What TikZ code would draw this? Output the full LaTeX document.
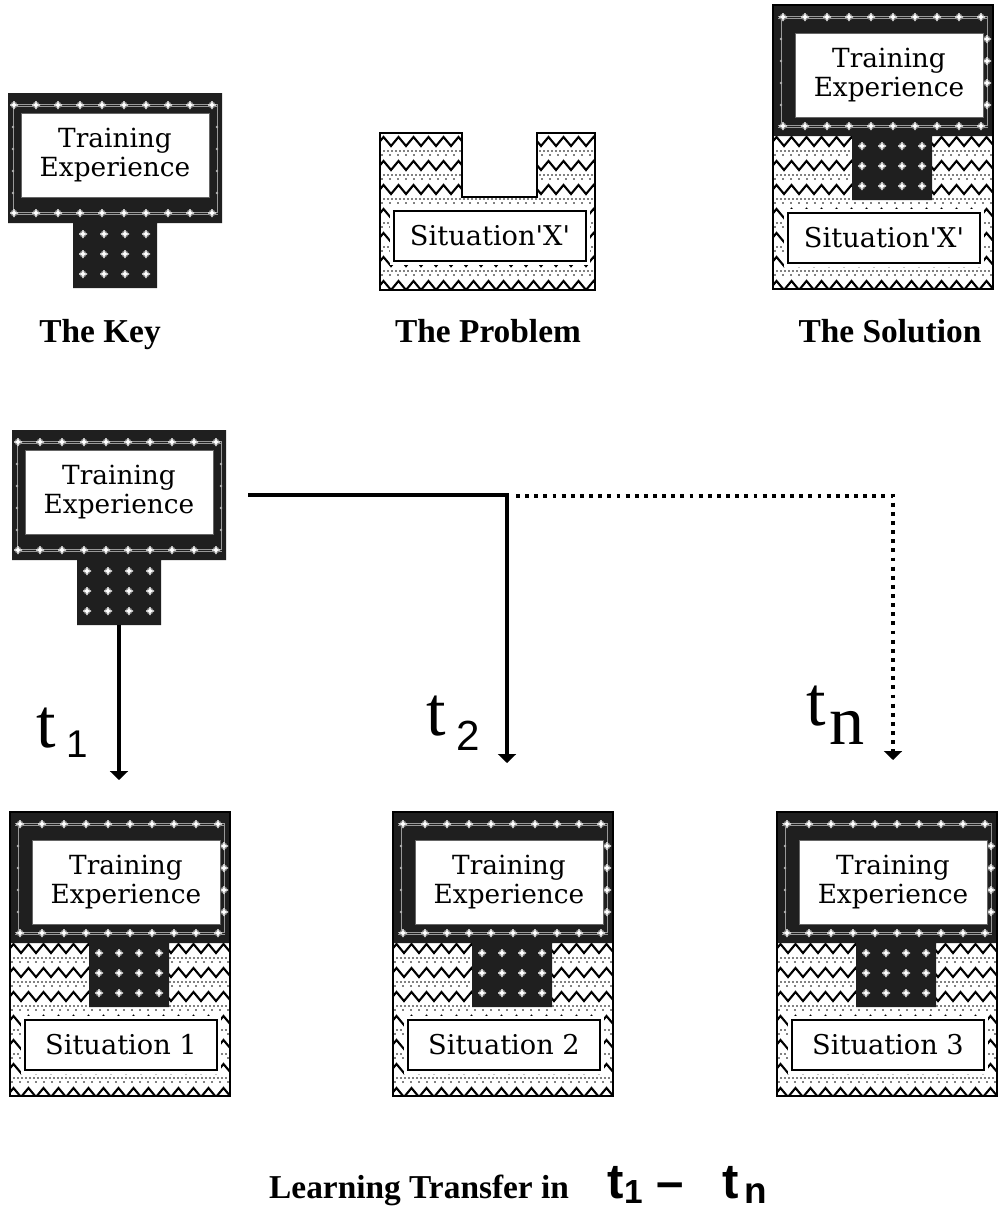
\documentclass[tikz,border=0pt]{standalone}
\usepackage{fontspec}
\setmainfont{Liberation Serif}
\setsansfont{Liberation Sans}
\newfontfamily\boxfont{DejaVu Serif}
\usetikzlibrary{arrows.meta,positioning}

\tikzset{
  ink/.style={fill=black!88},
  rail/.style={draw=white!60!black,line width=0.3pt},
  outline/.style={draw=black,line width=1.2pt},
  zig/.style={line width=1.2pt,line join=miter},
  tebox/.style={draw=black!60,line width=0.4pt,fill=white,align=center,inner sep=0pt,
    minimum width=3.76cm,minimum height=1.68cm,font=\boxfont\fontsize{15}{16}\selectfont},
  sitbox/.style={draw=black,line width=1pt,fill=white,preaction={draw=white,line width=5pt},
    inner sep=0pt,minimum width=3.84cm,minimum height=1cm,font=\boxfont\fontsize{15.5}{16}\selectfont},
  caption/.style={font=\bfseries\fontsize{19}{20}\selectfont},
  tlabel/.style={font=\fontsize{40}{40}\selectfont,inner sep=0pt,anchor=base west},
  flow/.style={line width=1.8pt,-{Triangle[width=10pt,length=5pt]}},
  dotflow/.style={line width=2.2pt,dash pattern=on 2.2pt off 3pt,-{Triangle[width=10pt,length=5pt]}},
  % small white star on the dark frame
  flower/.pic={
    \fill[white!50!black] (0,0) circle (3.5);
    \fill[white] (-4,-0.7) rectangle (4,0.7) (-0.7,-4) rectangle (0.7,4);
    \fill[white] (0,0) circle (2);
  },
  % zigzag and dot rows, clipped by the caller
  zigband/.pic={
    \foreach \r in {0,...,6} {
      \draw[zig] (-4,\r*24+13) \foreach \k in {0,...,15} { -- ++(7.5,-9) -- ++(7.5,9) };
      \fill \foreach \xx in {0,4,...,228} { (\xx,\r*24+18) circle (0.9) };
      \fill \foreach \xx in {2,10,...,228} { (\xx,\r*24+22) circle (0.9) };
    }
  },
  keypic/.pic={
    \fill[ink] (0,0) rectangle (214,130) (65,129) rectangle (149,195);
    \draw[rail] (4,11) -- (210,11) (4,13) -- (210,13) (4,119) -- (210,119) (4,121) -- (210,121);
    \draw[rail] (5,12) -- (5,120) (209,12) -- (209,120);
    \foreach \i in {0,...,9} {
      \pic at (6+22*\i,12) {flower};
      \pic at (6+22*\i,120) {flower};
    }
    \foreach \j in {34,56,78,100} \fill[white!70!black] (5,\j) circle (1.4) (209,\j) circle (1.4);
    \foreach \c in {0,...,3}
      \foreach \r in {0,1,2}
        \pic at (75+21*\c,141+20*\r) {flower};
    \node[tebox] (-te) at (107,62) {Training\\Experience};
    \coordinate (-stem) at (107,195);
    \coordinate (-east) at (236,65);
  },
  probpic/.pic={
    \begin{scope}
      \clip (0,0) -- (82,0) -- (82,64) -- (157,64) -- (157,0) -- (215,0) -- (215,157) -- (0,157) -- cycle;
      \pic at (0,0) {zigband};
    \end{scope}
    \draw[outline] (0,0) -- (82,0) -- (82,64) -- (157,64) -- (157,0) -- (215,0) -- (215,157) -- (0,157) -- cycle;
    \node[sitbox] (-sit) at (110,103) {Situation\textquotesingle X\textquotesingle};
  },
  solpic/.pic={
    \begin{scope}
      \clip (0,130) rectangle (220,284);
      \pic at (0,128) {zigband};
    \end{scope}
    \fill[ink] (0,0) rectangle (220,131) (79,130) rectangle (159,195);
    \draw[rail] (5,11) -- (215,11) (5,13) -- (215,13) (5,120) -- (215,120) (5,122) -- (215,122);
    \draw[rail] (8,12) -- (8,121) (214,12) -- (214,121);
    \foreach \i in {0,...,9} {
      \pic at (10+22*\i,12) {flower};
      \pic at (10+22*\i,121) {flower};
    }
    \foreach \j in {34,56,78,100} {
      \pic at (214,\j) {flower};
      \fill[white!70!black] (8,\j) circle (1.4);
    }
    \foreach \c in {0,...,3}
      \foreach \r in {0,1,2}
        \pic at (89+20*\c,141+20*\r) {flower};
    \draw[outline] (0,0) rectangle (220,284);
    \node[tebox] (-te) at (116,70) {Training\\Experience};
    \node[sitbox] (-sit) at (111,233) {#1};
  }
}

\begin{document}
\begin{tikzpicture}[x=0.02cm,y=-0.02cm]
  \useasboundingbox (0,0) rectangle (998,1210);

  % key, problem and solution
  \pic (key) at (8,93) {keypic};
  \pic (prob) at (380,133) {probpic};
  \pic (sol) at (773,5) {solpic={Situation\textquotesingle X\textquotesingle}};

  \node[caption] (keycap) at (100,335) {The Key};
  \node[caption] (probcap) at (488,331) {The Problem};
  \node[caption] (solcap) at (890,331) {The Solution};

  % one key, three situations
  \pic (train) at (12,430) {keypic};
  \pic (sit1) at (10,812) {solpic={Situation 1}};
  \pic (sit2) at (393,812) {solpic={Situation 2}};
  \pic (sit3) at (777,812) {solpic={Situation 3}};

  \coordinate (tip1) at (119,780);
  \coordinate (tip2) at (507,763);
  \coordinate (fork) at (516,496);
  \coordinate (tipn) at (893,760);

  \draw[flow] (train-stem) -- (tip1);
  \draw[flow] (train-east) -| (tip2);
  \draw[dotflow] (fork) -| (tipn);

  \node[tlabel] (t1) at (36,747) {t\hspace{6pt}\raisebox{-6pt}{\sffamily\fontsize{22}{22}\selectfont 1}};
  \node[tlabel] (t2) at (426,735) {t\hspace{6pt}\raisebox{-9pt}{\sffamily\fontsize{24}{24}\selectfont 2}};
  \node[tlabel] (tn) at (806,725) {t\hspace{2pt}\raisebox{-11pt}{n}};

  \node[caption] (transfer) at (518,1186) {Learning Transfer in\hspace{22pt}{\sffamily\fontsize{28}{28}\selectfont
    t\raisebox{-3pt}{\fontsize{19}{19}\selectfont 1}\hspace{8pt}--\hspace{22pt}t\hspace{3pt}\raisebox{-3pt}{\fontsize{21}{21}\selectfont n}}};
\end{tikzpicture}
\end{document}
